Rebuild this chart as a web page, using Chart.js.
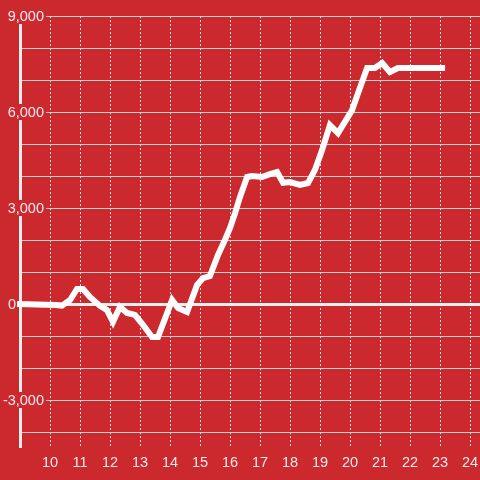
<!DOCTYPE html>
<html>
<head>
<meta charset="utf-8">
<script src="https://cdn.jsdelivr.net/npm/chart.js@4"></script>
<style>
  html, body { margin: 0; padding: 0; background: #cc292f; }
  #wrap { width: 480px; height: 480px; }
</style>
</head>
<body>
<div id="wrap"><canvas id="chart" width="480" height="480"></canvas></div>
<script>
// ---- data ----
const xValues = [8.9, 10.2, 10.4, 10.67, 10.9, 11.1, 11.33, 11.67, 11.9, 12.1, 12.33, 12.57, 12.83, 13.1, 13.4, 13.6,
  14.07, 14.27, 14.57, 14.9, 15.1, 15.33, 15.6, 15.83, 16.0, 16.17, 16.33, 16.57, 16.73, 17.07, 17.33, 17.57,
  17.77, 18.0, 18.33, 18.6, 18.83, 19.07, 19.33, 19.6, 20.07, 20.27, 20.57, 20.83, 21.07, 21.33, 21.6, 23.17];
const yValues = [0, -30, -50, 125, 470, 470, 220, -60, -190, -560, -90, -280, -340, -650, -1030, -1030,
  125, -125, -250, 590, 810, 875, 1530, 2000, 2375, 2840, 3340, 3970, 4000, 3970, 4060, 4125,
  3790, 3810, 3720, 3780, 4190, 4810, 5590, 5340, 6060, 6590, 7375, 7375, 7530, 7250, 7375, 7375];

const xTicks = [10, 11, 12, 13, 14, 15, 16, 17, 18, 19, 20, 21, 22, 23, 24];
const yTicks = [-4000, -3000, -2000, -1000, 0, 1000, 2000, 3000, 4000, 5000, 6000, 7000, 8000, 9000];
const yLabels = [-3000, 0, 3000, 6000, 9000];

const BG = "#cc292f";
const TEXT = "rgba(255,255,255,0.9)";
const FONT = { family: "'Liberation Sans', Arial, sans-serif", size: 14.5 };

const points = xValues.map((x, i) => ({ x: x, y: yValues[i] }));

// red background
const bgPlugin = {
    id: "bg",
    beforeDraw(chart) {
        const ctx = chart.ctx;
        ctx.save();
        ctx.fillStyle = BG;
        ctx.fillRect(0, 0, chart.width, chart.height);
        ctx.restore();
    }
};

// y axis line + labels drawn over it with a red box behind
const yAxisPlugin = {
    id: "yAxisLabels",
    beforeDatasetsDraw(chart) {
        const { ctx, chartArea, scales } = chart;
        const y = scales.y;
        ctx.save();
        ctx.strokeStyle = "#eeeeee";
        ctx.lineWidth = 3;
        ctx.beginPath();
        ctx.moveTo(chartArea.left + 0.5, chartArea.top);
        ctx.lineTo(chartArea.left + 0.5, chartArea.bottom);
        ctx.stroke();

        ctx.font = FONT.size + "px " + FONT.family;
        ctx.textAlign = "right";
        ctx.textBaseline = "middle";
        yLabels.forEach(v => {
            const py = y.getPixelForValue(v);
            const text = v.toLocaleString("en-US");
            const w = ctx.measureText(text).width;
            const right = v === 0 ? 16 : 44;
            ctx.fillStyle = BG;
            ctx.fillRect(right - w - 2, py - 8, w + 4, 16);
            ctx.fillStyle = TEXT;
            ctx.fillText(text, right, py + 1);
        });
        ctx.restore();
    }
};

new Chart(document.getElementById("chart"), {
    type: "line",
    data: {
        datasets: [{
            data: points,
            borderColor: "#ffffff",
            borderWidth: 6,
            pointRadius: 0,
            tension: 0,
            clip: false,
            borderJoinStyle: "miter"
        }]
    },
    options: {
        responsive: false,
        animation: false,
        devicePixelRatio: 1,
        layout: { autoPadding: false, padding: { left: 20, top: 16, right: 0, bottom: 0 } },
        plugins: {
            legend: { display: false },
            tooltip: { enabled: false }
        },
        scales: {
            x: {
                type: "linear",
                min: 9,
                max: 24.333,
                afterBuildTicks: s => { s.ticks = xTicks.map(v => ({ value: v })); },
                afterFit: s => { s.height = 32; s.paddingLeft = 0; s.paddingRight = 0; },
                grid: { color: "#e4e4e4", lineWidth: 1, drawTicks: false },
                border: { display: false, dash: [2, 2] },
                ticks: { color: TEXT, font: FONT, padding: 6, autoSkip: false, maxRotation: 0, callback: v => String(v) }
            },
            y: {
                min: -4500,
                max: 9000,
                afterBuildTicks: s => { s.ticks = yTicks.map(v => ({ value: v })); },
                afterFit: s => { s.width = 0; s.paddingTop = 0; s.paddingBottom = 0; },
                grid: {
                    color: c => (c.tick && c.tick.value === 0) ? "#eeeeee" : "#cfcfcf",
                    lineWidth: c => (c.tick && c.tick.value === 0) ? 3 : 1,
                    drawTicks: false
                },
                border: { display: false },
                ticks: { display: false }
            }
        }
    },
    plugins: [bgPlugin, yAxisPlugin]
});
</script>
</body>
</html>
